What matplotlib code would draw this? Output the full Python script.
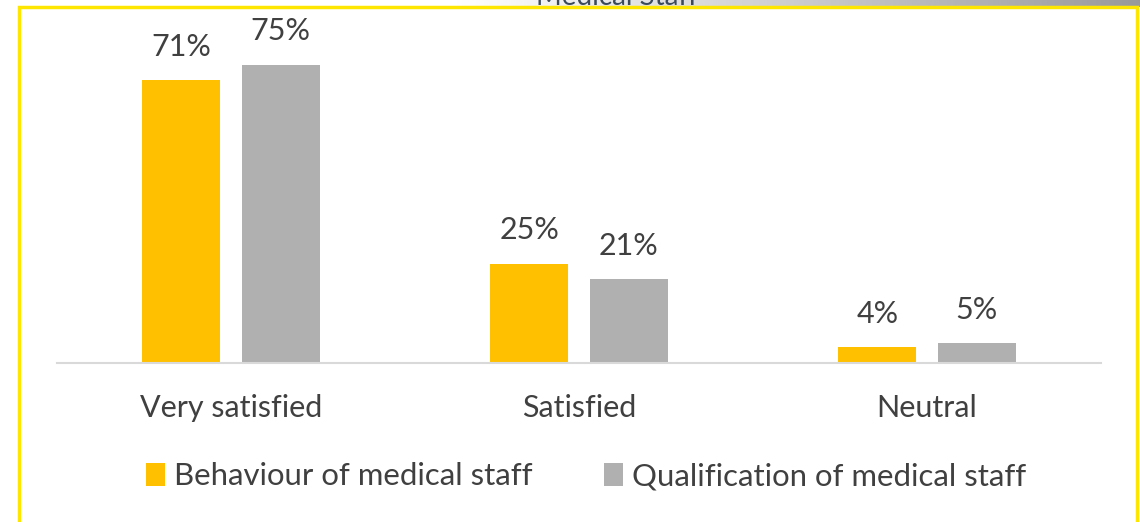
import numpy as np
import matplotlib.pyplot as plt
from matplotlib.patches import Rectangle

categories = ["Very satisfied", "Satisfied", "Neutral"]
behaviour = [71, 25, 4]
qualification = [75, 21, 5]
series_names = ["Behaviour of medical staff", "Qualification of medical staff"]

YELLOW = "#FFC000"
GREY = "#B0B0B0"
TEXT = "#404040"

plt.rcParams["font.family"] = ["Lato", "DejaVu Sans"]

W, H = 1140, 522
fig = plt.figure(figsize=(W / 100, H / 100), dpi=100)

# cut-off title band at the very top of the screenshot
grad = np.linspace(1.0, 0.6, 256).reshape(1, -1)
band = fig.add_axes([450 / W, 1 - 7 / H, 690 / W, 7 / H])
band.imshow(grad, aspect="auto", cmap="gray", vmin=0, vmax=1, extent=[0, 1, 0, 1])
band.axis("off")
fig.text(617 / W, 1 - 5 / H, "Medical Staff", ha="center", va="baseline",
         fontsize=20, color="#3A4A5C")

# yellow frame
fig.patches.append(Rectangle((19 / W, -0.01), 1118 / W, (H - 7) / H + 0.01,
                             transform=fig.transFigure, fill=False,
                             edgecolor="#FFE600", linewidth=2.5))

ax = fig.add_axes([57 / W, 1 - 363 / H, 1044 / W, (363 - 44.6) / H])
x = np.arange(len(categories))
bw = 0.224
off = 0.143
b1 = ax.bar(x - off, behaviour, bw, color=YELLOW, label=series_names[0])
b2 = ax.bar(x + off, qualification, bw, color=GREY, label=series_names[1])

for bars, vals in [(b1, behaviour), (b2, qualification)]:
    for bar, v in zip(bars, vals):
        ax.text(bar.get_x() + bar.get_width() / 2, v + 4.8, f"{v}%",
                ha="center", va="bottom", fontsize=22, color=TEXT, clip_on=False)

ax.set_xlim(-0.5, 2.5)
ax.set_ylim(0, 80)
ax.set_xticks(x)
ax.set_xticklabels(categories, fontsize=22, color=TEXT)
ax.tick_params(axis="x", length=0, pad=22)
ax.set_yticks([])
for s in ["top", "left", "right"]:
    ax.spines[s].set_visible(False)
ax.spines["bottom"].set_color("#D9D9D9")
ax.spines["bottom"].set_linewidth(1.5)

fig.legend(handles=[b1, b2], labels=series_names, loc="center",
           bbox_to_anchor=(586 / W, 1 - 476 / H), ncol=2, frameon=False,
           fontsize=22.4, handlelength=0.6, handleheight=0.75, handletextpad=0.3,
           columnspacing=2.3, labelcolor=TEXT)

fig.savefig("out.png", dpi=100)
